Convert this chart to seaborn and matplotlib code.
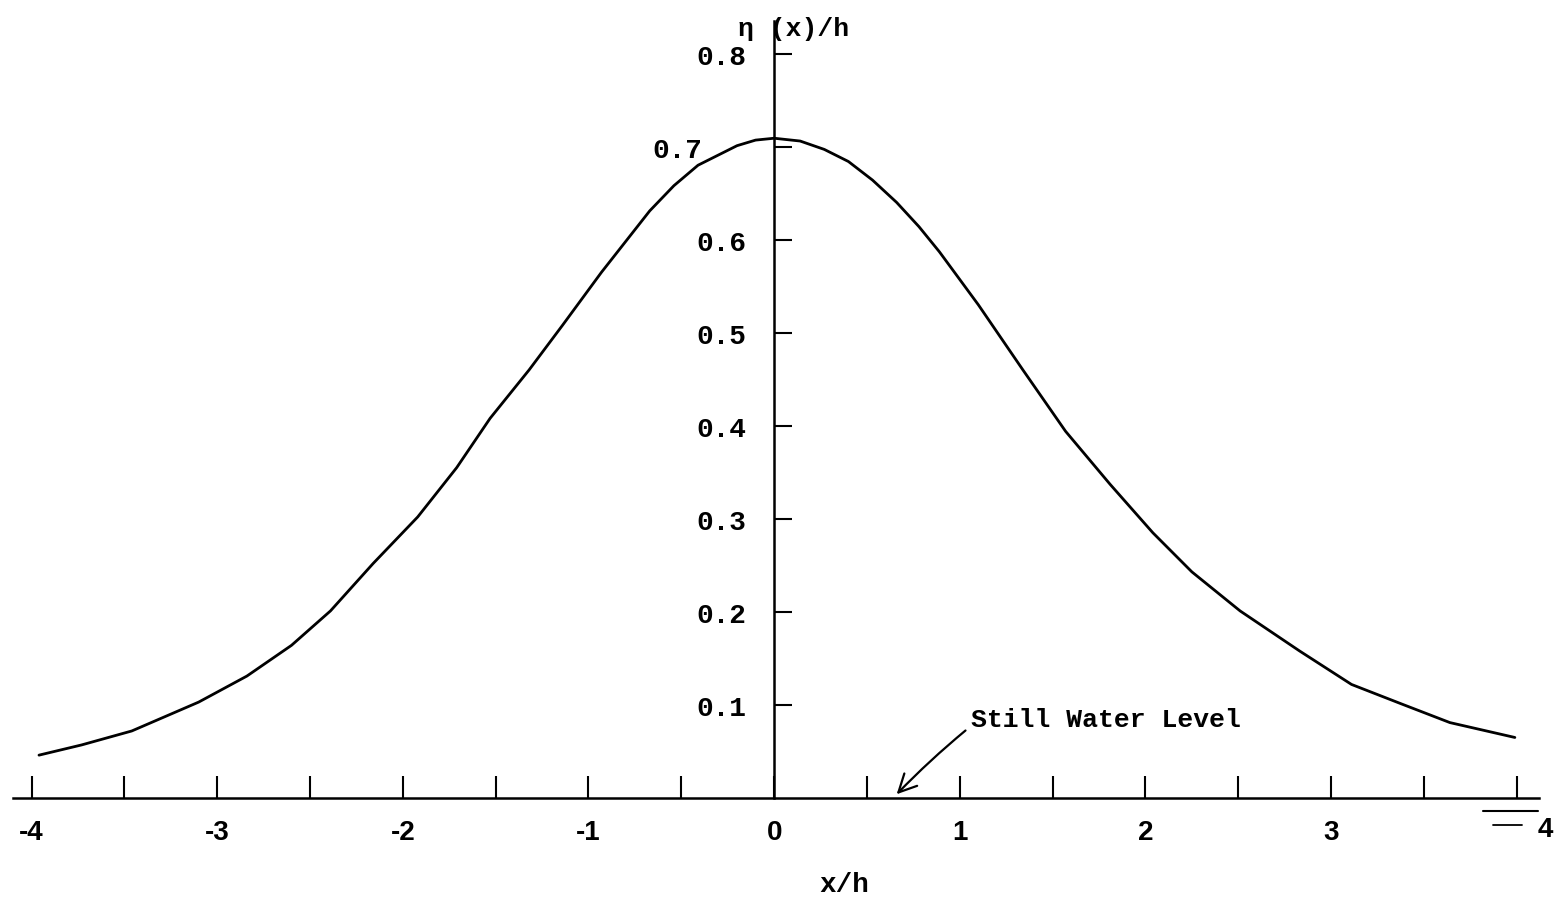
import numpy as np
import pandas as pd
import matplotlib
matplotlib.use("Agg")
import matplotlib.pyplot as plt
import matplotlib.transforms as mtransforms
import seaborn as sns

# ---- data ----
x_over_h = [-3.96, -3.73, -3.46, -3.10, -2.84, -2.60, -2.39, -2.16, -1.92, -1.71,
            -1.53, -1.32, -1.14, -0.93, -0.67, -0.54, -0.41, -0.20, -0.10, 0.00,
            0.14, 0.27, 0.40, 0.53, 0.66, 0.78, 0.89, 1.10, 1.34, 1.57,
            1.81, 2.04, 2.25, 2.51, 2.83, 3.11, 3.38, 3.64, 3.99]
eta_over_h = [0.046, 0.057, 0.072, 0.103, 0.131, 0.164, 0.201, 0.252, 0.302, 0.355,
              0.408, 0.460, 0.508, 0.565, 0.631, 0.658, 0.680, 0.701, 0.707, 0.709,
              0.706, 0.697, 0.684, 0.664, 0.640, 0.614, 0.587, 0.530, 0.460, 0.394,
              0.337, 0.285, 0.243, 0.201, 0.158, 0.122, 0.101, 0.081, 0.065]
x_major = [-4, -3, -2, -1, 0, 1, 2, 3, 4]
x_major_labels = ["-4", "-3", "-2", "-1", "0", "1", "2", "3", ""]
x_minor = [-3.5, -2.5, -1.5, -0.5, 0.5, 1.5, 2.5, 3.5]
y_ticks = [0.1, 0.2, 0.3, 0.4, 0.5, 0.6, 0.7, 0.8]
y_tick_labels = ["0.1", "0.2", "0.3", "0.4", "0.5", "0.6", "0.7", "0.8"]

df = pd.DataFrame({"x": x_over_h, "eta": eta_over_h})

sns.set_theme(style="white")
plt.rcParams["font.family"] = ["Liberation Mono", "DejaVu Sans Mono"]

fig = plt.figure(figsize=(15.54, 9.03), dpi=100)
ax = fig.add_axes([13 / 1554, 11 / 903, 1526 / 1554, 870 / 903])

sns.lineplot(data=df, x="x", y="eta", color="black", linewidth=2.0, ax=ax)

ax.set_xlim(-4.10, 4.12)
ax.set_ylim(-0.10, 0.835)
ax.set_xlabel("")
ax.set_ylabel("")

for s in ["top", "right"]:
    ax.spines[s].set_visible(False)
ax.spines["left"].set_position(("data", 0))
ax.spines["bottom"].set_position(("data", 0))
ax.spines["left"].set_bounds(0, 0.835)
for s in ["left", "bottom"]:
    ax.spines[s].set_color("black")
    ax.spines[s].set_linewidth(1.8)

ax.set_xticks(x_major)
ax.set_xticklabels(x_major_labels)
ax.set_xticks(x_minor, minor=True)
ax.set_yticks(y_ticks)
ax.set_yticklabels(y_tick_labels)

ax.tick_params(axis="x", which="both", direction="in", length=16, width=1.5,
               color="black", bottom=True, pad=15, labelsize=20,
               labelcolor="black", labelfontfamily="Liberation Sans")
ax.tick_params(axis="y", which="both", direction="in", length=13, width=1.5,
               color="black", left=True, pad=20, labelsize=20,
               labelcolor="black")
for lab in ax.get_xticklabels():
    lab.set_fontweight("bold")
for lab in ax.get_yticklabels():
    lab.set_fontweight("bold")

# the 0.7 label sits further left in the reference
lab07 = ax.get_yticklabels()[6]
lab07.set_transform(lab07.get_transform() +
                    mtransforms.ScaledTranslation(-44 / 100, 0, fig.dpi_scale_trans))

# axis titles
ax.text(-0.195, 0.828, "\u03b7 (x)/h", fontsize=19, fontweight="bold",
        ha="left", va="center", color="black")
ax.text(0.38, -0.092, "x/h", fontsize=20, fontweight="bold",
        ha="center", va="center", color="black")

# right-end "4" with still-water symbol
ax.text(4.156, -0.033, "4", fontsize=20, family="Liberation Sans", fontweight="bold",
        ha="center", va="center", color="black")
ax.plot([3.817, 4.113], [-0.014, -0.014], color="black", lw=1.5, clip_on=False)
ax.plot([3.87, 4.03], [-0.029, -0.029], color="black", lw=1.3, clip_on=False)

# annotation
ax.annotate("Still Water Level", xy=(0.66, 0.004), xytext=(1.06, 0.085),
            fontsize=19, fontweight="bold", ha="left", va="center", color="black",
            arrowprops=dict(arrowstyle="->", color="black", lw=1.6,
                            mutation_scale=32, shrinkA=2, shrinkB=0,
                            relpos=(0.0, 0.2),
                            connectionstyle="arc3,rad=0.03"))

fig.savefig("out.png", dpi=100, facecolor="white")
